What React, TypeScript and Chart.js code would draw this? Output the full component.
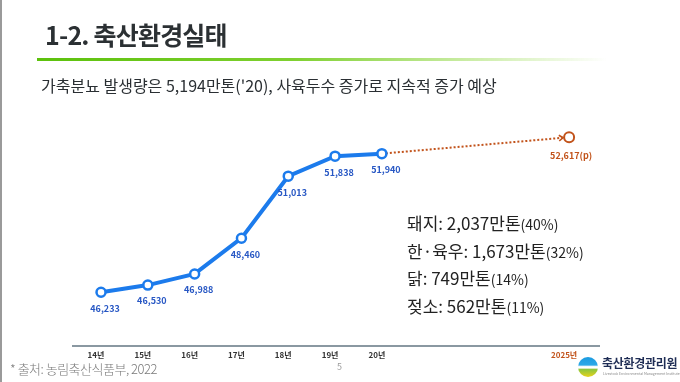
import React, { useEffect, useRef } from 'react';
import { Chart, registerables } from 'chart.js';
Chart.register(...registerables);

const FONT = '"Noto Sans CJK KR", "Noto Sans", sans-serif';

const yearLabels = ['14년', '15년', '16년', '17년', '18년', '19년', '20년', '', '', '', '2025년'];
const actualIdx = [0, 1, 2, 3, 4, 5, 6];
const actualValues = [46233, 46530, 46988, 48460, 51013, 51838, 51940];
const forecastIdx = [6, 10];
const forecastValues = [51940, 52617];
const forecastLabel = '52,617(p)';

const statsMain = ['돼지: 2,037만톤', '한·육우: 1,673만톤', '닭: 749만톤', '젖소: 562만톤'];
const statsShare = ['(40%)', '(32%)', '(14%)', '(11%)'];

const BLUE = '#1c7bec';
const BLUE_TEXT = '#2757c4';
const ORANGE = '#c2531b';
const AXIS = '#8a98a1';

const labelPlugin = {
  id: 'pointLabels',
  afterDraw(chart: any) {
    const ctx = chart.ctx;
    const area = chart.chartArea;
    ctx.save();
    ctx.setLineDash([]);
    ctx.strokeStyle = AXIS;
    ctx.lineWidth = 2;
    ctx.beginPath();
    ctx.moveTo(area.left, area.bottom + 1);
    ctx.lineTo(area.right, area.bottom + 1);
    ctx.stroke();
    ctx.restore();
  },
  afterDatasetsDraw(chart: any) {
    const ctx = chart.ctx;
    ctx.save();
    ctx.font = `bold 9px ${FONT}`;
    ctx.textAlign = 'center';
    ctx.textBaseline = 'middle';
    const m0 = chart.getDatasetMeta(0);
    m0.data.forEach((el: any, i: number) => {
      ctx.fillStyle = BLUE_TEXT;
      ctx.fillText(actualValues[i].toLocaleString('en-US'), el.x + 4, el.y + 16);
    });
    const m1 = chart.getDatasetMeta(1);
    const s = m1.data[0];
    const e = m1.data[1];
    const ang = Math.atan2(e.y - s.y, e.x - s.x);
    const tipX = e.x - 6 * Math.cos(ang);
    const tipY = e.y - 6 * Math.sin(ang);
    ctx.setLineDash([]);
    ctx.strokeStyle = ORANGE;
    ctx.lineWidth = 1.6;
    ctx.beginPath();
    ctx.moveTo(tipX - 5 * Math.cos(ang - 0.6), tipY - 5 * Math.sin(ang - 0.6));
    ctx.lineTo(tipX, tipY);
    ctx.lineTo(tipX - 5 * Math.cos(ang + 0.6), tipY - 5 * Math.sin(ang + 0.6));
    ctx.stroke();
    ctx.fillStyle = ORANGE;
    ctx.fillText(forecastLabel, e.x + 2, e.y + 18);
    ctx.restore();
  },
};

export default function App() {
  const ref = useRef<HTMLCanvasElement>(null);
  useEffect(() => {
    document.body.style.margin = '0';
    const chart = new Chart(ref.current as HTMLCanvasElement, {
      type: 'line',
      data: {
        datasets: [
          {
            data: actualIdx.map((x, i) => ({ x, y: actualValues[i] })),
            borderColor: BLUE,
            borderWidth: 4,
            pointRadius: 4.5,
            pointBorderWidth: 2.5,
            pointBackgroundColor: '#ffffff',
            pointBorderColor: BLUE,
            tension: 0,
          },
          {
            data: forecastIdx.map((x, i) => ({ x, y: forecastValues[i] })),
            borderColor: ORANGE,
            borderWidth: 2,
            borderDash: [2, 2],
            pointRadius: [0, 5],
            pointBorderWidth: 2,
            pointBackgroundColor: '#ffffff',
            pointBorderColor: ORANGE,
            tension: 0,
          },
        ],
      },
      options: {
        animation: false,
        responsive: false,
        maintainAspectRatio: false,
        layout: { padding: { left: 72, right: 80, top: 120, bottom: 17 } },
        plugins: { legend: { display: false }, tooltip: { enabled: false } },
        scales: {
          x: {
            type: 'linear',
            min: -0.62,
            max: 10.66,
            afterBuildTicks: (axis: any) => {
              axis.ticks = yearLabels.map((_, i) => ({ value: i }));
            },
            afterFit: (axis: any) => {
              axis.height = 20;
            },
            grid: { display: false, drawTicks: false },
            border: { display: false },
            ticks: {
              autoSkip: false,
              maxRotation: 0,
              labelOffset: -5,
              padding: 5,
              color: (c: any) => (c.index === 10 ? ORANGE : '#333333'),
              font: { size: 8, weight: 'bold', family: FONT },
              callback: (v: any) => yearLabels[v] ?? '',
            },
          },
          y: { display: false, min: 44063, max: 53326 },
        },
      },
      plugins: [labelPlugin],
    } as any);
    return () => chart.destroy();
  }, []);

  return (
    <div style={{ position: 'relative', width: 680, height: 382, overflow: 'hidden', background: '#fff', fontFamily: FONT }}>
      <canvas ref={ref} width={680} height={382} style={{ position: 'absolute', left: 0, top: 0, width: 680, height: 382 }} />
      <div style={{ position: 'absolute', left: 72, top: 345, width: 528, height: 2, background: AXIS }} />
      <div style={{ position: 'absolute', left: 0, top: 0, width: 2, height: 382, background: '#9a9a9a' }} />
      <div style={{ position: 'absolute', left: 45, top: 20, fontSize: 25, lineHeight: '28px', fontWeight: 700, color: '#2b3033', letterSpacing: -0.8, whiteSpace: 'nowrap' }}>
        1-2. 축산환경실태
      </div>
      <div style={{ position: 'absolute', left: 37, top: 58, width: 570, height: 3, background: 'linear-gradient(to right, #5cc10c 0%, #7fd030 45%, #c9eca3 75%, rgba(255,255,255,0) 100%)' }} />
      <div style={{ position: 'absolute', left: 41, top: 74, fontSize: 16, lineHeight: '22px', color: '#2a2f33', letterSpacing: 0, whiteSpace: 'nowrap' }}>
        가축분뇨 발생량은 5,194만톤('20), 사육두수 증가로 지속적 증가 예상
      </div>
      {statsMain.map((t, i) => (
        <div key={i} style={{ position: 'absolute', left: 407, top: 210 + i * 27.5, fontSize: 17, lineHeight: '26px', color: '#222', whiteSpace: 'nowrap' }}>
          {t}
          <span style={{ fontSize: 14 }}>{statsShare[i]}</span>
        </div>
      ))}
      <div style={{ position: 'absolute', left: 10, top: 360, fontSize: 13, lineHeight: '18px', color: '#7a7a7a', fontWeight: 300, letterSpacing: -0.5, whiteSpace: 'nowrap' }}>
        * 출처: 농림축산식품부, 2022
      </div>
      <div style={{ position: 'absolute', left: 337, top: 360, fontSize: 9, lineHeight: '14px', color: '#9a9a9a' }}>5</div>
      <div style={{ position: 'absolute', left: 578, top: 357, width: 20, height: 20, borderRadius: '50%', overflow: 'hidden', background: 'linear-gradient(to bottom, #1b9be0 0%, #2aa8e8 40%, #ffffff 48%, #ffffff 55%, #8cc63f 62%, #e8d21a 100%)' }} />
      <div style={{ position: 'absolute', left: 602, top: 355, fontSize: 12, lineHeight: '16px', fontWeight: 700, color: '#1f2d55', letterSpacing: -0.3, whiteSpace: 'nowrap' }}>
        축산환경관리원
      </div>
      <div style={{ position: 'absolute', left: 603, top: 371, fontSize: 3.5, lineHeight: '5px', color: '#888', whiteSpace: 'nowrap' }}>
        Livestock Environmental Management Institute
      </div>
    </div>
  );
}
